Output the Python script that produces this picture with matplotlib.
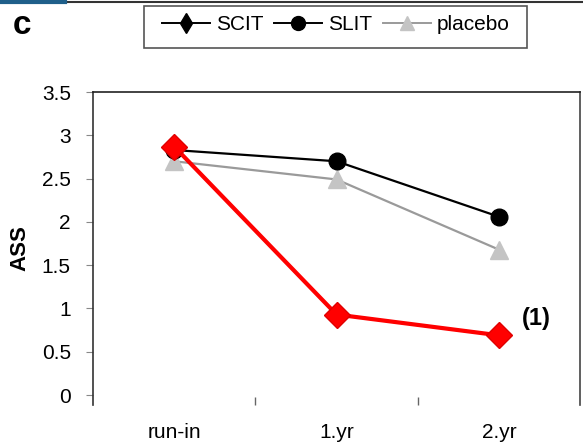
"""Recreate panel c: ASS over run-in, 1st and 2nd year."""

import matplotlib

matplotlib.use("Agg")
import matplotlib.pyplot as plt
from matplotlib.lines import Line2D
from matplotlib.patches import Rectangle

# data
periods = ["run-in", "1.yr", "2.yr"]
scit = [2.87, 0.93, 0.69]
slit = [2.83, 2.70, 2.06]
placebo = [2.70, 2.49, 1.68]
y_ticks = [0, 0.5, 1, 1.5, 2, 2.5, 3, 3.5]
y_tick_labels = ["0", "0.5", "1", "1.5", "2", "2.5", "3", "3.5"]

plt.rcParams["font.family"] = ["Liberation Sans", "DejaVu Sans"]

fig = plt.figure(figsize=(5.83, 4.45), dpi=100)
ax = fig.add_axes([93 / 583, 40 / 445, 487 / 583, 313 / 445])

x = range(len(periods))

ax.plot(x, placebo, color="#9a9a9a", lw=1.6, marker="^", ms=13,
        mfc="#c4c4c4", mec="#c4c4c4", label="placebo", zorder=2)
ax.plot(x, slit, color="black", lw=1.6, marker="o", ms=12,
        label="SLIT", zorder=3)
ax.plot(x, scit, color="black", lw=1.8, marker="d", ms=9,
        label="SCIT", zorder=4)
# red highlight over SCIT
ax.plot(x, scit, color="#ff0000", lw=3, marker="D", ms=13,
        mfc="#ff0000", mec="#e00000", zorder=5)

ax.set_xlim(-0.5, 2.5)
ax.set_ylim(-0.115, 3.5)
ax.set_xticks(list(x))
ax.set_xticklabels(periods, fontsize=15)
ax.set_xticks([0.5, 1.5], minor=True)
ax.tick_params(axis="x", which="major", length=0, pad=13)
ax.tick_params(axis="x", which="minor", length=6, direction="in",
               color="#666666", width=1)
ax.set_yticks(y_ticks)
ax.set_yticklabels(y_tick_labels, fontsize=15)
ax.tick_params(axis="y", length=5, width=0.8, color="#888888", pad=11)
ax.set_ylabel("ASS", fontsize=16, fontweight="bold", labelpad=8)

ax.spines["bottom"].set_visible(False)
ax.spines["left"].set_color("#333333")
ax.spines["top"].set_color("#222222")
ax.spines["right"].set_color("#444444")
for s in ["left", "top", "right"]:
    ax.spines[s].set_linewidth(1.2)

ax.text(2.23, 0.88, "(1)", fontsize=17, fontweight="bold", ha="center",
        va="center")

# legend in a box at the top
handles = [
    Line2D([], [], color="black", lw=1.4, marker="d", ms=10),
    Line2D([], [], color="black", lw=1.4, marker="o", ms=10),
    Line2D([], [], color="#9a9a9a", lw=1.4, marker="^", ms=10,
           mfc="#c4c4c4", mec="#c4c4c4"),
]
fig.legend(handles, ["SCIT", "SLIT", "placebo"], loc="center",
           bbox_to_anchor=(336 / 583, 1 - 25 / 445), ncol=3, frameon=False,
           fontsize=15, handlelength=2.3, handletextpad=0.3,
           columnspacing=0.5)
fig.patches.append(Rectangle((144 / 583, 1 - 48 / 445), 383 / 583, 42 / 445,
                             transform=fig.transFigure, fill=False,
                             ec="#555555", lw=1.2))

fig.text(13 / 583, 1 - 26 / 445, "c", fontsize=24, fontweight="bold",
         va="center", ha="left")

# page edge line at the very top
fig.add_artist(Line2D([0, 1], [1 - 2 / 445] * 2, transform=fig.transFigure,
                      color="#333333", lw=1.5))
fig.add_artist(Line2D([0, 65 / 583], [1 - 2 / 445] * 2,
                      transform=fig.transFigure, color="#1f5f8a", lw=3))

fig.savefig("out.png", dpi=100)
